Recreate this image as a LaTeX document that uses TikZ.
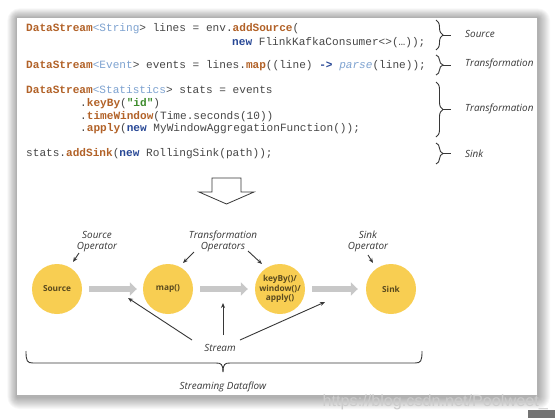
\documentclass[tikz,border=0pt]{standalone}
\usepackage{fontspec}
\setsansfont{Open Sans}
\newfontfamily\codefont[Ligatures=NoCommon]{Liberation Mono}
\newfontfamily\labfont{Open Sans}
\usetikzlibrary{arrows.meta,decorations.pathreplacing}
\definecolor{codekw}{RGB}{178,98,40}
\definecolor{codetype}{RGB}{125,162,208}
\definecolor{codenew}{RGB}{40,72,150}
\definecolor{codestr}{RGB}{62,140,45}
\definecolor{codetxt}{RGB}{70,70,70}
\definecolor{opyellow}{RGB}{248,206,82}
\definecolor{optext}{RGB}{90,74,30}
\definecolor{flowgray}{RGB}{200,200,200}
\definecolor{inkgray}{RGB}{55,55,55}
\newcommand\kw[1]{\textcolor{codekw}{\bfseries #1}}
\newcommand\ty[1]{\textcolor{codetype}{#1}}
\newcommand\nw[1]{\textcolor{codenew}{\bfseries #1}}
\newcommand\strlit[1]{\textcolor{codestr}{\bfseries #1}}
\tikzset{
  codeline/.style={anchor=base west, inner sep=0pt, font=\codefont\fontsize{11.1}{13}\selectfont, text=codetxt},
  sidelabel/.style={anchor=west, inner sep=0pt, font=\labfont\itshape\fontsize{9.9}{11}\selectfont, text=inkgray},
  oplabel/.style={align=center, inner sep=0pt, font=\labfont\itshape\fontsize{9.9}{11.2}\selectfont, text=inkgray},
  opnode/.style={circle, fill=opyellow, minimum size=50pt, inner sep=0pt, align=center, font=\sffamily\bfseries\fontsize{8.3}{9.6}\selectfont, text=optext},
  flow/.style={draw=flowgray, line width=6pt, -{Triangle[width=13pt,length=7pt]}},
  ptr/.style={draw=inkgray, line width=0.9pt, -{Stealth[length=5pt,width=4pt]}},
  bracestyle/.style={draw=inkgray, line width=0.9pt, decorate, decoration={brace, amplitude=7pt}},
  shadowlayer/.style={fill=black, fill opacity=0.028, rounded corners=#1},
}
\begin{document}
\begin{tikzpicture}[x=1pt, y=-1pt]
\useasboundingbox (0,0) rectangle (555,418);
\fill[white] (0,0) rectangle (555,418);
% soft shadow of the slide
\foreach \i in {1,...,12} {
  \fill[shadowlayer=\i pt] ({17-\i*0.8},{18-\i*0.8}) rectangle ({538+\i},{397+\i});
}
\fill[white] (17,18) rectangle (537,395);

% code
\node[codeline] (c1) at (26,31.5) {\kw{DataStream}\ty{<String}> lines = env.\kw{addSource}(};
\node[codeline] (c1b) at (232,45) {\nw{new} FlinkKafkaConsumer<>(…));};
\node[codeline] (c2) at (26,68.5) {\kw{DataStream}\ty{<Event}> events = lines.\kw{map}((line) \nw{->} \ty{\itshape parse}(line));};
\node[codeline] (c3) at (26,93) {\kw{DataStream}\ty{<Statistics}> stats = events};
\node[codeline] (c4) at (80,106.5) {.\kw{keyBy}(\strlit{"id"})};
\node[codeline] (c5) at (80,119.5) {.\kw{timeWindow}(Time.seconds(10))};
\node[codeline] (c6) at (80,131.5) {.\kw{apply}(\nw{new} MyWindowAggregationFunction());};
\node[codeline] (c7) at (26,156.5) {stats.\kw{addSink}(\nw{new} RollingSink(path));};

% side braces
\draw[bracestyle] (436,20) -- (436,50);
\draw[inkgray, line width=0.9pt] (443,35) -- (451,35);
\draw[bracestyle] (436,55) -- (436,75);
\draw[inkgray, line width=0.9pt] (443,65) -- (451,65);
\draw[bracestyle] (436,82) -- (436,137);
\draw[inkgray, line width=0.9pt] (443,109.5) -- (451,109.5);
\draw[bracestyle] (436,143) -- (436,164);
\draw[inkgray, line width=0.9pt] (443,153.5) -- (451,153.5);
\node[sidelabel] (l1) at (465,34) {Source};
\node[sidelabel] (l2) at (465,64) {Transformation};
\node[sidelabel] (l3) at (465,109) {Transformation};
\node[sidelabel] (l4) at (465,154) {Sink};

% hollow down arrow
\draw[inkgray, line width=0.8pt, line join=miter] (212,178) -- (241,178) -- (241,192) -- (254,192) -- (226.5,204) -- (199,192) -- (212,192) -- cycle;

% operators
\node[opnode] (src) at (57,289) {Source};
\node[opnode] (map) at (168,289) {map()};
\node[opnode] (key) at (280,289) {keyBy()/\\window()/\\apply()};
\node[opnode] (snk) at (391,289) {Sink};

\draw[flow, shorten <=7pt, shorten >=6pt] (src) -- (map);
\draw[flow, shorten <=7pt, shorten >=7pt] (map) -- (key);
\draw[flow, shorten <=7pt, shorten >=8pt] (key) -- (snk);

% operator labels
\node[oplabel] (srclab) at (97,241.5) {Source\\Operator};
\node[oplabel] (trlab) at (223,241.5) {Transformation\\Operators};
\node[oplabel] (snklab) at (368,241.5) {Sink\\Operator};
\coordinate (a1s) at (79,253);
\coordinate (a1e) at (73,262);
\draw[ptr] (a1s) -- (a1e);
\coordinate (a2s) at (194,252);
\coordinate (a2e) at (183,263);
\draw[ptr] (a2s) -- (a2e);
\coordinate (a3s) at (248,251);
\coordinate (a3e) at (262,264);
\draw[ptr] (a3s) -- (a3e);
\coordinate (a4s) at (368,255);
\coordinate (a4e) at (373,263);
\draw[ptr] (a4s) -- (a4e);

% stream
\node[oplabel] (stream) at (220,348) {Stream};
\coordinate (s1s) at (192,340);
\coordinate (s1e) at (128,298);
\coordinate (s2s) at (223,335);
\coordinate (s2e) at (223,303);
\coordinate (s3s) at (240,340);
\coordinate (s3e) at (325,302);
\draw[ptr] (s1s) -- (s1e);
\draw[ptr] (s2s) -- (s2e);
\draw[ptr] (s3s) -- (s3e);

% bottom brace
\draw[inkgray, line width=0.9pt] (26,351) .. controls (26,361) and (27,363) .. (33,363) -- (216,363) .. controls (221,363) and (223,364) .. (223,372);
\draw[inkgray, line width=0.9pt] (422,351) .. controls (422,361) and (421,363) .. (415,363) -- (230,363) .. controls (225,363) and (223,364) .. (223,372);
\node[oplabel] (sdf) at (223,387) {Streaming Dataflow};

% watermark
\node[anchor=base east, inner sep=0pt, font=\fontspec{Liberation Sans}\fontsize{16.2}{18}\selectfont, text=black!20] (wm) at (548,406) {https://blog.csdn.net/Poolweet\_};
\fill[black!55] (528,410) rectangle (555,418);
\end{tikzpicture}
\end{document}
